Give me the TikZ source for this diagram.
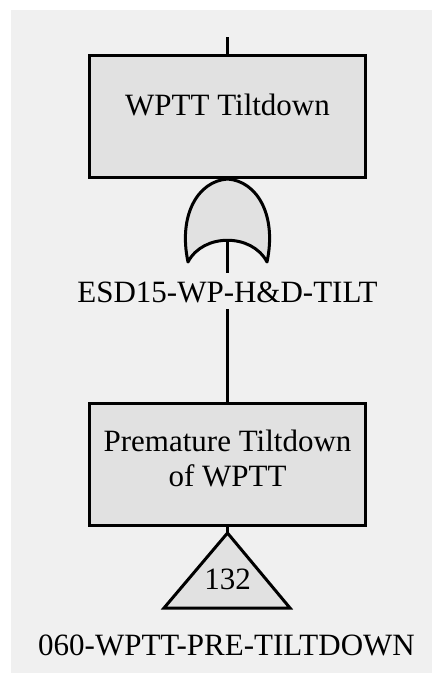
\documentclass[tikz,border=0pt]{standalone}
\usepackage{fontspec}
\setmainfont{Liberation Serif}
\definecolor{bgcol}{RGB}{240,240,240}
\definecolor{boxcol}{RGB}{225,225,225}
\begin{document}
\begin{tikzpicture}[x=1pt,y=-1pt,
  ftline/.style={line width=3pt,black},
  eventbox/.style={draw,line width=3pt,fill=boxcol,minimum width=276pt,minimum height=122pt,inner sep=0pt,
    font=\fontsize{31}{35}\selectfont,align=center},
  idlabel/.style={inner sep=0pt,font=\fontsize{31}{35}\selectfont},
  gateshape/.style={draw,line width=3pt,fill=boxcol,line join=round}
]
\useasboundingbox (0,0) rectangle (432,673);
\fill[bgcol] (11,10) rectangle (432,673);

% top event
\coordinate (topend) at (227.5,37);
\node[eventbox,text height=21.5pt,text depth=23.5pt] (box1) at (227.5,116) {WPTT Tiltdown};
\draw[ftline] (topend) -- (box1.north);

% OR gate
\coordinate (gapex) at (227.5,179);
\coordinate (gbot) at (227.5,240);
\draw[gateshape] (188,262) .. controls (178,215) and (198,181) .. (gapex)
  .. controls (257,181) and (277,215) .. (267,262)
  .. controls (252,233) and (203,233) .. (188,262) -- cycle;
\draw[ftline] (box1.south) -- (gapex);

% gate label
\node[idlabel,anchor=base,text height=29pt,text depth=7pt] (lab1) at (227.5,302) {ESD15-WP-H\&D-TILT};
\draw[ftline] (gbot) -- (lab1.north);

% basic event box
\node[eventbox,text depth=12pt] (box2) at (227.5,464) {Premature Tiltdown\\of WPTT};
\draw[ftline] (lab1.south) -- (box2.north);

% transfer triangle
\coordinate (tapex) at (227.5,533);
\coordinate (tleft) at (164,608);
\coordinate (tright) at (290,608);
\draw[gateshape,line join=miter] (tapex) -- (tright) -- (tleft) -- cycle;
\draw[ftline] (box2.south) -- (tapex);
\node[idlabel,anchor=base] (tnum) at (227.5,589) {132};

% bottom label
\node[idlabel,anchor=base] (lab2) at (226.5,655) {060-WPTT-PRE-TILTDOWN};
\end{tikzpicture}
\end{document}
